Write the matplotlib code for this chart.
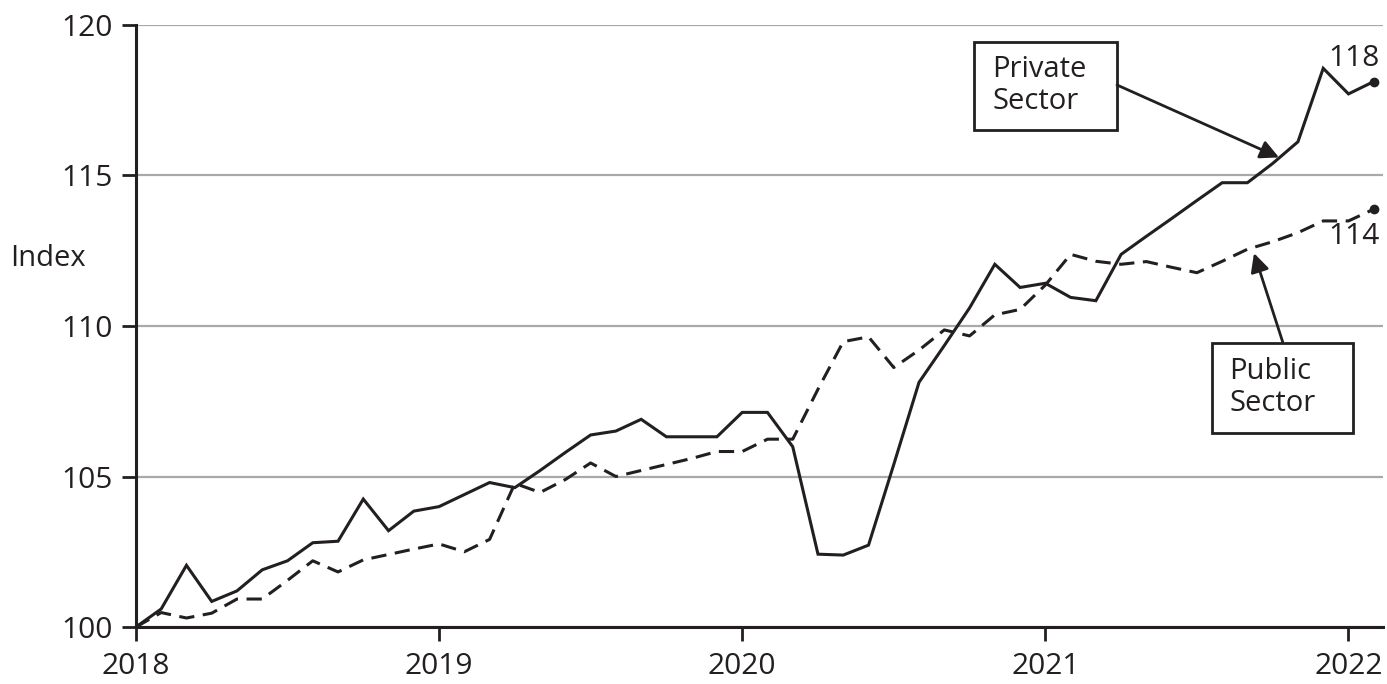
import matplotlib
matplotlib.use("Agg")
import matplotlib.pyplot as plt
from matplotlib.patches import Rectangle

plt.rcParams["font.family"] = ["Open Sans", "DejaVu Sans"]

# monthly index values, Jan 2018 .. Feb 2022
months = list(range(50))
private_sector = [
    100.0, 100.6, 102.05, 100.85, 101.2, 101.9, 102.2, 102.8, 102.85, 104.25, 103.2, 103.85,
    104.0, 104.4, 104.8, 104.63, 105.2, 105.8, 106.38, 106.51, 106.9, 106.32, 106.32, 106.32,
    107.13, 107.13, 105.99, 102.42, 102.39, 102.72, 105.4, 108.13, 109.35, 110.6, 112.05, 111.28,
    111.42, 110.95, 110.84, 112.38, 112.98, 113.57, 114.17, 114.76, 114.76, 115.4, 116.12, 118.56,
    117.71, 118.12,
]
public_sector = [
    100.0, 100.48, 100.3, 100.46, 100.93, 100.93, 101.55, 102.2, 101.83, 102.23, 102.41, 102.59,
    102.76, 102.5, 102.91, 104.77, 104.47, 104.9, 105.45, 105.0, 105.2, 105.4, 105.6, 105.83,
    105.83, 106.24, 106.24, 107.9, 109.48, 109.64, 108.62, 109.2, 109.87, 109.67, 110.37, 110.55,
    111.36, 112.38, 112.15, 112.05, 112.14, 111.95, 111.77, 112.15, 112.55, 112.8, 113.1, 113.49,
    113.49, 113.88,
]
year_ticks = [2018, 2019, 2020, 2021, 2022]
y_ticks = [100, 105, 110, 115, 120]

ink = "#231f20"
fs = 21.5
x = [2018 + m / 12 for m in months]

fig = plt.figure(figsize=(13.87, 6.84), dpi=100)
ax = fig.add_axes([0.098, 0.0833, 0.899, 0.8802])

ax.plot(x, private_sector, color=ink, lw=2.2, solid_joinstyle="miter")
ax.plot(x, public_sector, color=ink, lw=2.2, dashes=(5, 2.8))
ax.plot(x[-1], private_sector[-1], "o", color=ink, ms=6)
ax.plot(x[-1], public_sector[-1], "o", color=ink, ms=6)

ax.set_xlim(2018, 2018 + 49.36 / 12)
ax.set_ylim(100, 120)
ax.set_xticks(year_ticks)
ax.set_xticklabels([str(y) for y in year_ticks])
ax.set_yticks(y_ticks)
ax.yaxis.grid(True, color="#a7a9ac", lw=1.6)
ax.set_axisbelow(True)
for side in ("top", "right"):
    ax.spines[side].set_visible(False)
for side in ("left", "bottom"):
    ax.spines[side].set_color(ink)
    ax.spines[side].set_linewidth(2.2)
ax.tick_params(axis="both", direction="out", length=10, width=2, color=ink,
               labelsize=fs, labelcolor=ink)
ax.tick_params(axis="y", pad=7)
ax.tick_params(axis="x", pad=8)

fig.text(10 / 1387, 1 - 258 / 684, "Index", fontsize=fs - 0.5, color=ink,
         ha="left", va="center")

# end labels
ax.annotate(f"{private_sector[-1]:.0f}", xy=(x[-1], private_sector[-1]),
            xytext=(4, 6), textcoords="offset points", ha="right", va="bottom",
            fontsize=fs, color=ink)
ax.annotate(f"{public_sector[-1]:.0f}", xy=(x[-1], public_sector[-1]),
            xytext=(4, -9), textcoords="offset points", ha="right", va="top",
            fontsize=fs, color=ink)

# callout boxes
boxes = [
    ("Private\nSector", (0.6722, 0.8256, 0.1144, 0.1467), 0.6866,
     (0.7868, 0.9003), (2018 + 45.25 / 12, 115.6)),
    ("Public\nSector", (0.8628, 0.3228, 0.1136, 0.1495), 0.8770,
     (0.9197, 0.4734), (2018 + 44.26 / 12, 112.42)),
]
for label, (bx, by, bw, bh), tx, start, tip in boxes:
    ax.add_patch(Rectangle((bx, by), bw, bh, transform=ax.transAxes,
                           facecolor="white", edgecolor=ink, lw=2, zorder=5))
    ax.text(tx, by + bh / 2, label, transform=ax.transAxes, fontsize=fs - 0.5,
            color=ink, ha="left", va="center", linespacing=1.15, zorder=6)
    ax.annotate("", xy=tip, xytext=start, textcoords="axes fraction",
                arrowprops=dict(arrowstyle="-|>", color=ink, lw=2,
                                mutation_scale=28, shrinkA=0, shrinkB=0),
                zorder=6)

fig.savefig("out.png", dpi=100)
